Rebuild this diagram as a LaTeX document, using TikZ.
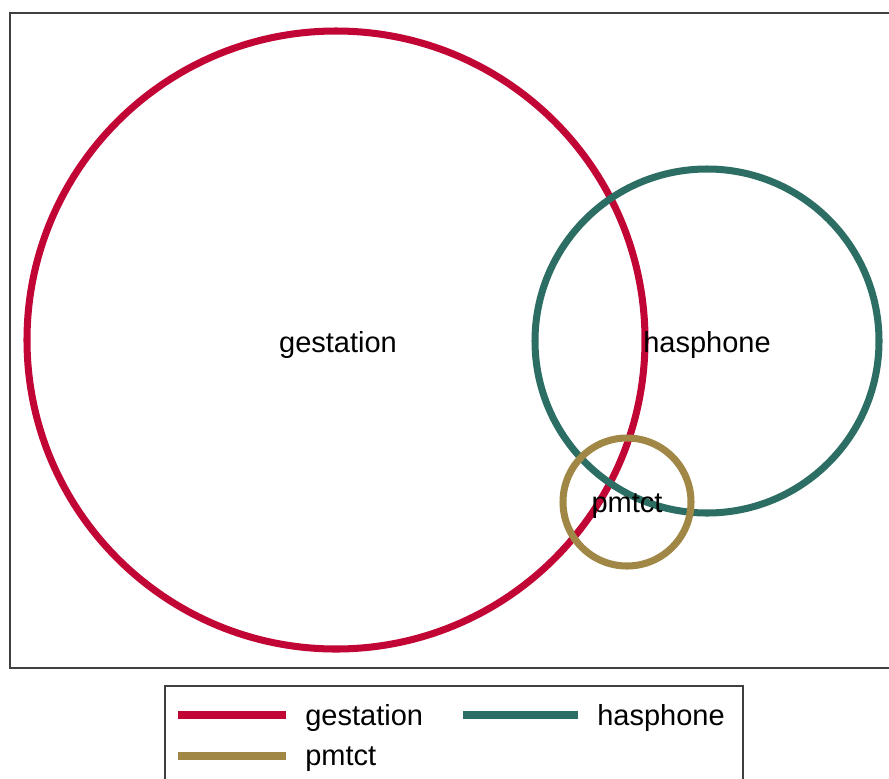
\documentclass[tikz,border=0pt]{standalone}
\usepackage{fontspec}
\setmainfont{Liberation Sans}

\definecolor{gestred}{RGB}{193,5,52}
\definecolor{phoneteal}{RGB}{44,110,100}
\definecolor{pmtctgold}{RGB}{160,135,70}

\begin{document}
\begin{tikzpicture}[x=0.02cm,y=-0.02cm,
    ring/.style={line width=4pt},
    key/.style={line width=4pt},
    lbl/.style={font=\fontsize{16.5}{18}\selectfont, inner sep=0pt}]
    \useasboundingbox (0,0) rectangle (889,778);
    %Ramme
        \draw[black!75, line width=0.8pt] (10,13) rectangle (900,668);
    %Sirkler
        \draw[ring, gestred] (336,340) circle (309);
        \draw[ring, phoneteal] (707,341) circle (172);
        \draw[ring, pmtctgold] (627,502) circle (64);
        %
        \node[lbl] (gestation) at (338,345) {gestation};
        \node[lbl] (hasphone) at (707,345) {hasphone};
        \node[lbl] (pmtct) at (627,506) {pmtct};
    %Forklaring
        \draw[black!75, line width=0.8pt] (165,686) rectangle (743,790);
        \coordinate (k1a) at (178,715); \coordinate (k1b) at (286,715);
        \coordinate (k2a) at (463,715); \coordinate (k2b) at (578,715);
        \coordinate (k3a) at (178,756); \coordinate (k3b) at (286,756);
        \draw[key, gestred] (k1a)--(k1b);
        \draw[key, phoneteal] (k2a)--(k2b);
        \draw[key, pmtctgold] (k3a)--(k3b);
        \node[lbl, anchor=west] (kgest) at (305,718) {gestation};
        \node[lbl, anchor=west] (kphone) at (597,718) {hasphone};
        \node[lbl, anchor=west] (kpmtct) at (305,759) {pmtct};
        %
    \end{tikzpicture}
\end{document}
